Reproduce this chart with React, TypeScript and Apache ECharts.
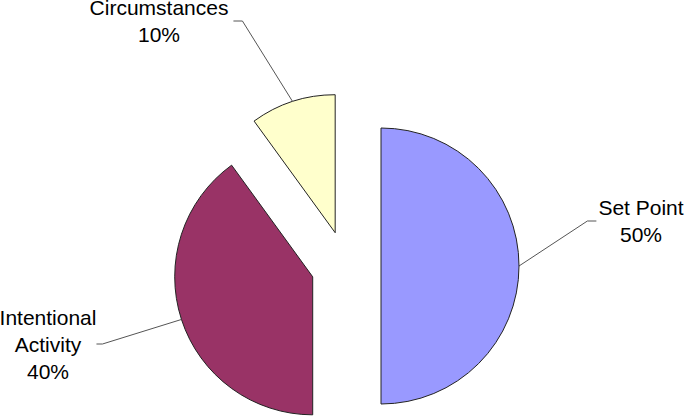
import React, { useEffect, useRef } from 'react';
import * as echarts from 'echarts';

const categories = ['Set Point', 'Intentional Activity', 'Circumstances'];
const labelTexts = ['Set Point', 'Intentional\nActivity', 'Circumstances'];
const values = [50, 40, 10];
const colors = ['#9999FF', '#993366', '#FFFFCC'];

// layout constants
const baseCenter = [346, 266];
const radius = 138;
const explode = 35;
const labelPos = [
  [641, 221],
  [48, 344],
  [159, 21],
];
const leaderLen2 = [9, 6, 9];
const leaderGap = [2, 0, 5];

export default function App() {
  const ref = useRef<HTMLDivElement>(null);
  useEffect(() => {
    if (!ref.current) return;
    const chart = echarts.init(ref.current, null, { renderer: 'svg' });
    const total = values.reduce((a, b) => a + b, 0);
    let cum = 0;
    const series = values.map((v, k) => {
      const midFrac = (cum + v / 2) / total;
      cum += v;
      const theta = midFrac * 2 * Math.PI; // clockwise from top
      const dx = Math.sin(theta);
      const dy = -Math.cos(theta);
      const cx = baseCenter[0] + explode * dx;
      const cy = baseCenter[1] + explode * dy;
      return {
        type: 'pie',
        center: [cx, cy],
        radius,
        startAngle: 90,
        clockwise: true,
        avoidLabelOverlap: false,
        emphasis: { disabled: true },
        silent: true,
        label: {
          show: true,
          position: 'outside',
          formatter: (p: any) => labelTexts[p.dataIndex] + '\n' + p.percent + '%',
          fontFamily: '"Liberation Sans", Arial, sans-serif',
          fontSize: 21,
          lineHeight: 27,
          color: '#000',
          align: 'center',
        },
        labelLine: {
          show: true,
          length: 20,
          length2: 8,
          lineStyle: { color: '#555', width: 1 },
        },
        labelLayout: (params: any) => {
          const p = labelPos[k];
          const w = params.labelRect.width;
          const ax = cx + radius * dx;
          const ay = cy + radius * dy;
          const left = ax < p[0];
          const edge = left ? p[0] - w / 2 - leaderGap[k] : p[0] + w / 2 + leaderGap[k];
          const mid = left ? edge - leaderLen2[k] : edge + leaderLen2[k];
          return {
            x: p[0],
            y: p[1],
            align: 'center',
            verticalAlign: 'middle',
            labelLinePoints: [
              [ax, ay],
              [mid, p[1]],
              [edge, p[1]],
            ],
          };
        },
        data: categories.map((name, i) =>
          i === k
            ? {
                name,
                value: values[i],
                itemStyle: { color: colors[i], borderColor: '#222', borderWidth: 1 },
              }
            : {
                name,
                value: values[i],
                itemStyle: { color: 'rgba(0,0,0,0)', borderWidth: 0 },
                label: { show: false },
                labelLine: { show: false },
              }
        ),
      };
    });
    chart.setOption({
      animation: false,
      backgroundColor: '#fff',
      series,
    });
    return () => chart.dispose();
  }, []);
  return (
    <div
      ref={ref}
      style={{ position: 'fixed', left: 0, top: 0, width: 685, height: 417 }}
    />
  );
}
